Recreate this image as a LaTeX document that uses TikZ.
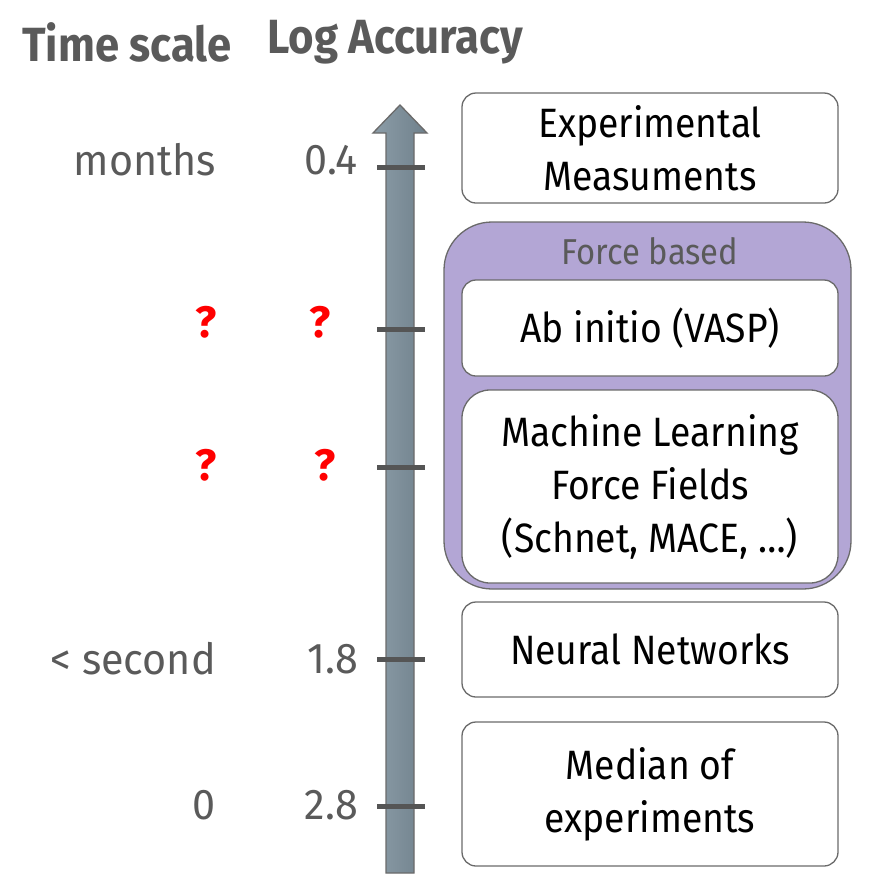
\documentclass[tikz,border=0pt]{standalone}
\usepackage{fontspec}
\setmainfont{Fira Sans}
\newfontfamily\condfont[FakeStretch=0.91]{Fira Sans}
\newfontfamily\labfont[FakeStretch=0.96]{Fira Sans}
\definecolor{labgray}{HTML}{5A5A5A}
\definecolor{edgegray}{HTML}{6A6A6A}
\definecolor{purplefill}{HTML}{B3A6D5}
\definecolor{arrowL}{HTML}{8C9DA8}
\definecolor{arrowR}{HTML}{6F808B}
\definecolor{tickgray}{HTML}{555555}
\begin{document}
\begin{tikzpicture}[x=1pt,y=-1pt,
  box/.style={draw=edgegray, line width=1.3pt, fill=white, rounded corners=14pt,
    text=black, align=center, minimum width=376pt,
    font={\condfont\fontsize{41}{53}\selectfont}},
  lab/.style={text=labgray, anchor=east, inner sep=0pt, font={\labfont\fontsize{43}{50}\selectfont}},
  head/.style={text=labgray, anchor=west, inner sep=0pt, font={\condfont\fontsize{48}{55}\selectfont\bfseries}},
  qm/.style={text=red, inner sep=0pt, font={\fontsize{44}{50}\selectfont\bfseries}},
  tickmark/.style={draw=tickgray, line width=5pt}]
\useasboundingbox (0,0) rectangle (873,895);
% headers
\node[head] (hts) at (22,42) {Time scale};
\node[head] (hla) at (267,42) {Log Accuracy};
% axis arrow
\shade[left color=arrowL, right color=arrowR, draw=edgegray, line width=1.3pt]
  (386,873) -- (386,133) -- (373,133) -- (400,105) -- (427,133) -- (414,133) -- (414,873) -- cycle;
\foreach \yy in {167,329,467,659,806}{\draw[tickmark] (377,\yy) -- (425,\yy);}
% left labels
\node[lab] (tm) at (216,160) {months};
\node[lab] (am) at (358,160) {0.4};
\node[lab] (ts) at (216,659) {< second};
\node[lab] (as) at (358,659) {1.8};
\node[lab] (t0) at (216,805) {0};
\node[lab] (a0) at (358,805) {2.8};
\node[qm] (q1) at (206,322) {?};
\node[qm] (q2) at (320,322) {?};
\node[qm] (q3) at (206,465) {?};
\node[qm] (q4) at (325,465) {?};
% boxes
\node[box, minimum height=110pt] (exp) at (650,148) {Experimental\\Measuments};
\node[draw=edgegray, line width=1.3pt, fill=purplefill, rounded corners=48pt,
  minimum width=407pt, minimum height=367pt] (force) at (647.5,405.5) {};
\node[text=labgray, font={\condfont\fontsize{36}{40}\selectfont}] (forcelab) at (650,251) {Force based};
\node[box, minimum height=96pt] (ab) at (650,328) {Ab initio (VASP)};
\node[box, minimum height=193pt, rounded corners=28pt] (ml) at (650,486.5) {Machine Learning\\Force Fields\\(Schnet, MACE, \dots)};
\node[box, minimum height=95pt] (nn) at (650,649.5) {Neural Networks};
\node[box, minimum height=144pt] (med) at (650,794) {Median of\\experiments};
\end{tikzpicture}
\end{document}
